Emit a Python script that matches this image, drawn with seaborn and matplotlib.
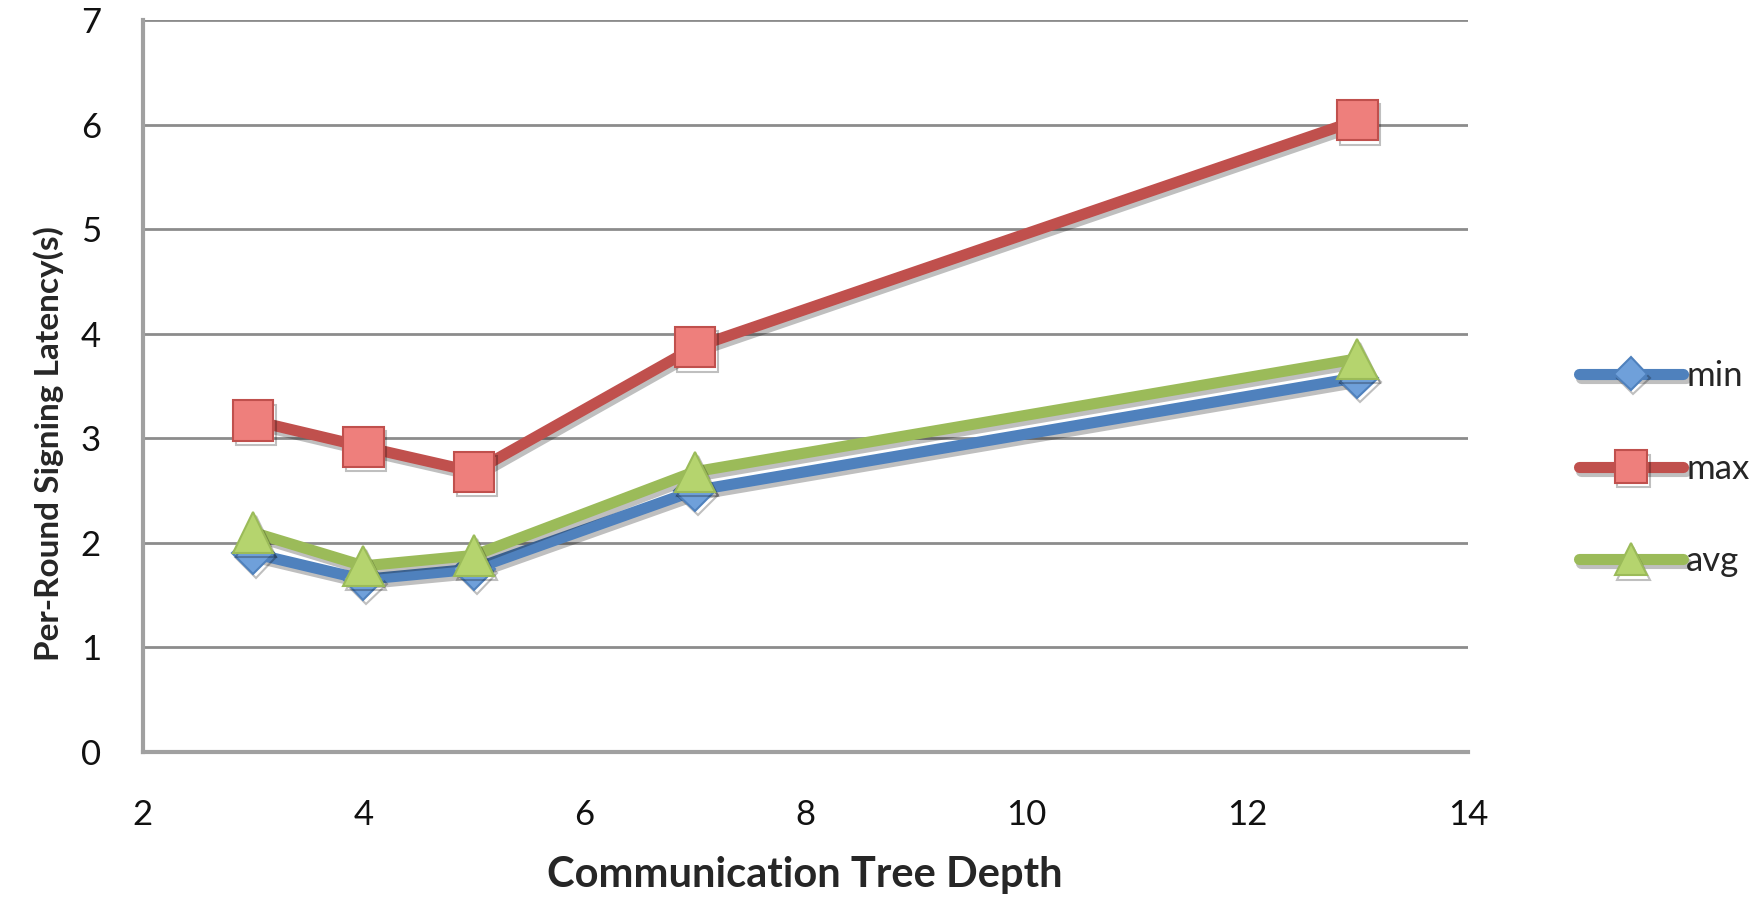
import matplotlib
matplotlib.use('Agg')
import matplotlib.pyplot as plt
import matplotlib.patheffects as pe
import seaborn as sns
import pandas as pd

# values
depth = [3, 4, 5, 7, 13]
lat_min = [1.90, 1.65, 1.75, 2.50, 3.58]
lat_max = [3.17, 2.92, 2.68, 3.87, 6.04]
lat_avg = [2.10, 1.78, 1.88, 2.68, 3.76]

series = ['min', 'max', 'avg']
line_colors = {'min': '#4F81BD', 'max': '#C0504D', 'avg': '#9BBB59'}
face_colors = {'min': '#6FA0DA', 'max': '#EE7F7C', 'avg': '#B5D46E'}
markers = {'min': 'D', 'max': 's', 'avg': '^'}
msizes = {'min': 21, 'max': 29, 'avg': 29}

df = pd.DataFrame({'depth': depth * 3,
                   'latency': lat_min + lat_max + lat_avg,
                   'series': ['min'] * 5 + ['max'] * 5 + ['avg'] * 5})

sns.set_style('white')
plt.rcParams['font.family'] = ['Lato', 'DejaVu Sans']

fig = plt.figure(figsize=(17.6, 9.05), dpi=100)
ax = fig.add_axes([0.081, 0.169, 0.753, 0.809])

shadow = [pe.SimpleLineShadow(offset=(2, -3), alpha=0.25), pe.Normal()]
for s in series:
    sub = df[df['series'] == s]
    sns.lineplot(x='depth', y='latency', data=sub, ax=ax, color=line_colors[s],
                 linewidth=8, marker=markers[s], markersize=msizes[s],
                 markerfacecolor=face_colors[s], markeredgecolor=line_colors[s],
                 markeredgewidth=1.5, label=s, path_effects=shadow)

ax.set_xlim(2, 14)
ax.set_ylim(0, 7)
ax.set_xticks(range(2, 15, 2))
ax.set_yticks(range(0, 8))
ax.yaxis.grid(True, color='#8c8c8c', linewidth=2)
ax.xaxis.grid(False)
ax.set_axisbelow(True)
for side in ['top', 'right']:
    ax.spines[side].set_visible(False)
for side in ['left', 'bottom']:
    ax.spines[side].set_color('#a0a0a0')
    ax.spines[side].set_linewidth(3)
ax.tick_params(axis='both', length=0, labelsize=25, colors='#111111')
ax.tick_params(axis='x', pad=34)
ax.tick_params(axis='y', pad=30)

ax.set_xlabel('Communication Tree Depth', fontsize=30, fontweight='bold', labelpad=18)
ax.set_ylabel('Per-Round Signing Latency(s)', fontsize=24, fontweight='bold')
ax.yaxis.set_label_coords(-0.059, 0.422)

leg = ax.legend(loc='center left', bbox_to_anchor=(1.06, 0.387), frameon=False,
                fontsize=25, handlelength=3.0, handletextpad=0.1, labelspacing=1.75,
                markerscale=0.8)

fig.savefig('out.png', dpi=100)
